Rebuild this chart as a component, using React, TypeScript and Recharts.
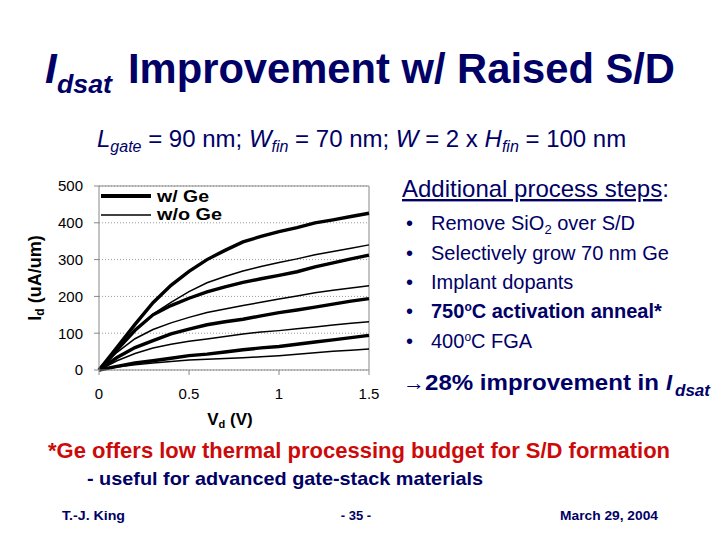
import React from 'react';
import { LineChart, Line, XAxis, YAxis, CartesianGrid, ReferenceLine, Legend } from 'recharts';

const VD = [0, 0.1, 0.2, 0.3, 0.4, 0.5, 0.6, 0.7, 0.8, 0.9, 1.0, 1.1, 1.2, 1.3, 1.4, 1.5];
const GE_1 = [0, 62, 124, 183, 230, 268, 300, 325, 348, 363, 376, 387, 400, 408, 417, 426];
const NOGE_1 = [0, 55, 108, 152, 184, 213, 237, 254, 269, 281, 292, 302, 313, 322, 331, 340];
const GE_2 = [0, 55, 108, 150, 175, 195, 212, 226, 238, 248, 257, 267, 280, 291, 302, 312];
const NOGE_2 = [0, 48, 85, 110, 128, 143, 156, 166, 175, 184, 193, 201, 210, 217, 223, 229];
const GE_3 = [0, 34, 61, 80, 98, 111, 123, 131, 138, 147, 156, 163, 171, 179, 187, 194];
const NOGE_3 = [0, 25, 45, 60, 70, 78, 84, 91, 98, 103, 107, 112, 117, 122, 127, 131];
const GE_4 = [0, 10, 19, 25, 32, 39, 43, 49, 55, 60, 64, 70, 76, 82, 88, 94];
const NOGE_4 = [0, 8, 14, 19, 23, 27, 29, 31, 33, 36, 39, 43, 47, 51, 54, 57];

const X_TICKS = [0, 0.5, 1, 1.5];
const Y_TICKS = [0, 100, 200, 300, 400, 500];
const LEGEND_LABELS = ['w/ Ge', 'w/o Ge'];

const SERIES = [
  { key: 'ge1', values: GE_1, thick: true },
  { key: 'noge1', values: NOGE_1, thick: false },
  { key: 'ge2', values: GE_2, thick: true },
  { key: 'noge2', values: NOGE_2, thick: false },
  { key: 'ge3', values: GE_3, thick: true },
  { key: 'noge3', values: NOGE_3, thick: false },
  { key: 'ge4', values: GE_4, thick: true },
  { key: 'noge4', values: NOGE_4, thick: false },
];

const rows = VD.map((v, i) => {
  const r: Record<string, number> = { vd: v };
  SERIES.forEach((s) => {
    r[s.key] = s.values[i];
  });
  return r;
});

const FONT = '"Liberation Sans", Arial, Helvetica, sans-serif';
const NAVY = '#000066';
const RED = '#cc0a0a';
const THICK = 3.4;
const THIN = 1.5;

const renderLegend = () => (
  <svg width={140} height={42} style={{ display: 'block' }}>
    <line x1={0} x2={50} y1={11} y2={11} stroke="#000" strokeWidth={4} />
    <text x={56} y={17} fontFamily={FONT} fontWeight="bold" fontSize={16} fill="#000" textLength={52} lengthAdjust="spacingAndGlyphs">
      {LEGEND_LABELS[0]}
    </text>
    <line x1={0} x2={50} y1={30} y2={30} stroke="#000" strokeWidth={1.6} />
    <text x={56} y={35} fontFamily={FONT} fontWeight="bold" fontSize={16} fill="#000" textLength={65} lengthAdjust="spacingAndGlyphs">
      {LEGEND_LABELS[1]}
    </text>
  </svg>
);

const renderYLabel = (props: any) => {
  const vb = props.viewBox || { x: 0, y: 16, width: 79, height: 184 };
  const cx = vb.x + 21;
  const cy = vb.y + vb.height / 2;
  return (
    <text
      x={cx}
      y={cy}
      transform={`rotate(-90, ${cx}, ${cy})`}
      textAnchor="middle"
      fontFamily={FONT}
      fontWeight="bold"
      fontSize={18}
      fill="#000"
    >
      <tspan>I</tspan>
      <tspan fontSize={12} dy={3}>d</tspan>
      <tspan dy={-3}> (uA/um)</tspan>
    </text>
  );
};

const renderXLabel = (props: any) => {
  const vb = props.viewBox || { x: 79, y: 200, width: 270, height: 60 };
  const cx = vb.x + vb.width / 2 - 4;
  const cy = vb.y + 55;
  return (
    <text x={cx} y={cy} textAnchor="middle" fontFamily={FONT} fontWeight="bold" fontSize={17} fill="#000">
      <tspan>V</tspan>
      <tspan fontSize={11} dy={3}>d</tspan>
      <tspan dy={-3}> (V)</tspan>
    </text>
  );
};

function Chart() {
  return (
    <LineChart width={370} height={260} data={rows} margin={{ top: 16, right: 21, left: 0, bottom: 0 }}>
      <CartesianGrid vertical={false} stroke="#9a9a9a" strokeDasharray="1 2" />
      <XAxis
        dataKey="vd"
        type="number"
        domain={[0, 1.5]}
        ticks={X_TICKS}
        tickFormatter={(v: number) => String(v)}
        axisLine={{ stroke: '#888' }}
        tickLine={{ stroke: '#888' }}
        tickSize={5}
        tickMargin={13}
        height={60}
        tick={{ fill: '#000', fontSize: 15, fontFamily: FONT }}
        label={{ content: renderXLabel }}
      />
      <YAxis
        type="number"
        domain={[0, 500]}
        ticks={Y_TICKS}
        width={79}
        axisLine={{ stroke: '#888' }}
        tickLine={{ stroke: '#888' }}
        tickSize={5}
        tickMargin={11}
        tick={{ fill: '#000', fontSize: 15, fontFamily: FONT }}
        label={{ content: renderYLabel }}
      />
      <ReferenceLine y={500} stroke="#888" strokeWidth={1} />
      <ReferenceLine x={1.5} stroke="#888" strokeWidth={1} />
      <Legend
        layout="vertical"
        align="center"
        verticalAlign="middle"
        content={renderLegend}
        wrapperStyle={{ left: 81, top: 15, width: 140, height: 42 }}
      />
      {SERIES.map((s) => (
        <Line
          key={s.key}
          dataKey={s.key}
          type="linear"
          stroke="#000"
          strokeWidth={s.thick ? THICK : THIN}
          dot={false}
          activeDot={false}
          isAnimationActive={false}
          legendType="none"
        />
      ))}
    </LineChart>
  );
}

function SlideText() {
  return (
    <svg width={720} height={540} style={{ position: 'absolute', left: 0, top: 0, pointerEvents: 'none' }}>
      {/* Title */}
      <text x={45} y={83} fontFamily={FONT} fontWeight="bold" fontStyle="italic" fontSize={42} fill={NAVY}>I</text>
      <text x={57} y={93} fontFamily={FONT} fontWeight="bold" fontStyle="italic" fontSize={26} fill={NAVY} textLength={55} lengthAdjust="spacingAndGlyphs">dsat</text>
      <text x={128} y={83} fontFamily={FONT} fontWeight="bold" fontSize={42} fill={NAVY} textLength={547} lengthAdjust="spacingAndGlyphs">Improvement w/ Raised S/D</text>

      {/* Subtitle */}
      <text x={97} y={147} fontFamily={FONT} fontSize={24} fill={NAVY}>
        <tspan fontStyle="italic">L</tspan>
        <tspan fontStyle="italic" fontSize={16} dy={5}>gate</tspan>
        <tspan dy={-5}> = 90 nm; </tspan>
        <tspan fontStyle="italic">W</tspan>
        <tspan fontStyle="italic" fontSize={16} dy={5}>fin</tspan>
        <tspan dy={-5}> = 70 nm; </tspan>
        <tspan fontStyle="italic">W</tspan>
        <tspan> = 2 x </tspan>
        <tspan fontStyle="italic">H</tspan>
        <tspan fontStyle="italic" fontSize={16} dy={5}>fin</tspan>
        <tspan dy={-5}> = 100 nm</tspan>
      </text>

      {/* Right block */}
      <text x={402} y={197} fontFamily={FONT} fontSize={24} fill={NAVY}>
        <tspan textDecoration="underline" style={{ textDecoration: 'underline' }}>Additional process steps</tspan>
        <tspan>:</tspan>
      </text>
      {[230, 260, 289, 318, 348].map((y) => (
        <text key={y} x={406} y={y} fontFamily={FONT} fontSize={20} fill={NAVY}>•</text>
      ))}
      <text x={431} y={230} fontFamily={FONT} fontSize={20} fill={NAVY}>
        <tspan>Remove SiO</tspan>
        <tspan fontSize={13} dy={4}>2</tspan>
        <tspan dy={-4}> over S/D</tspan>
      </text>
      <text x={431} y={260} fontFamily={FONT} fontSize={20} fill={NAVY}>Selectively grow 70 nm Ge</text>
      <text x={431} y={289} fontFamily={FONT} fontSize={20} fill={NAVY}>Implant dopants</text>
      <text x={431} y={318} fontFamily={FONT} fontSize={20} fontWeight="bold" fill={NAVY}>
        <tspan>750</tspan>
        <tspan fontSize={12} dy={-7}>o</tspan>
        <tspan dy={7}>C activation anneal*</tspan>
      </text>
      <text x={431} y={348} fontFamily={FONT} fontSize={20} fill={NAVY}>
        <tspan>400</tspan>
        <tspan fontSize={12} dy={-7}>o</tspan>
        <tspan dy={7}>C FGA</tspan>
      </text>
      <text x={403} y={390} fontFamily={FONT} fontSize={22} fill={NAVY}>→</text>
      <text x={425} y={390} fontFamily={FONT} fontSize={22} fontWeight="bold" fill={NAVY} textLength={234} lengthAdjust="spacingAndGlyphs">
        28% improvement in
      </text>
      <text x={666} y={390} fontFamily={FONT} fontSize={22} fontWeight="bold" fontStyle="italic" fill={NAVY}>I</text>
      <text x={675} y={396} fontFamily={FONT} fontSize={16} fontWeight="bold" fontStyle="italic" fill={NAVY} textLength={35} lengthAdjust="spacingAndGlyphs">dsat</text>

      {/* Bottom notes */}
      <text x={48} y={458} fontFamily={FONT} fontSize={22} fontWeight="bold" fill={RED} textLength={622} lengthAdjust="spacingAndGlyphs">
        *Ge offers low thermal processing budget for S/D formation
      </text>
      <text x={87} y={485} fontFamily={FONT} fontSize={19} fontWeight="bold" fill={NAVY} textLength={396} lengthAdjust="spacingAndGlyphs">
        - useful for advanced gate-stack materials
      </text>

      {/* Footer */}
      <text x={62} y={520} fontFamily={FONT} fontSize={13} fontWeight="bold" fill={NAVY} textLength={63} lengthAdjust="spacingAndGlyphs">T.-J. King</text>
      <text x={356} y={520} fontFamily={FONT} fontSize={13} fontWeight="bold" fill={NAVY} textAnchor="middle">- 35 -</text>
      <text x={560} y={520} fontFamily={FONT} fontSize={13} fontWeight="bold" fill={NAVY} textLength={98} lengthAdjust="spacingAndGlyphs">March 29, 2004</text>
    </svg>
  );
}

export default function App() {
  return (
    <div style={{ position: 'absolute', left: 0, top: 0, width: 720, height: 540, background: '#fff', overflow: 'hidden' }}>
      <SlideText />
      <div style={{ position: 'absolute', left: 20, top: 170 }}>
        <Chart />
      </div>
    </div>
  );
}
